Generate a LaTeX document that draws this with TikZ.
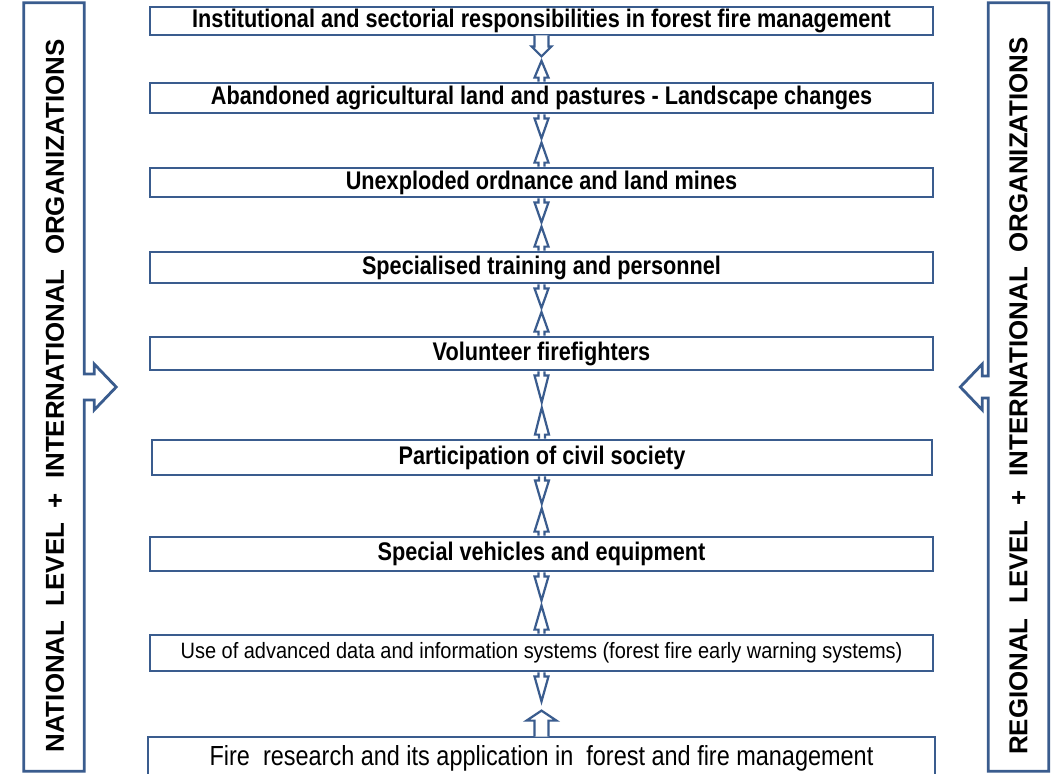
\documentclass[tikz,border=0pt]{standalone}
\usepackage{fontspec}
\setmainfont{Liberation Sans}
\newfontfamily\narrowfont[FakeStretch=0.85]{Liberation Sans}
\newfontfamily\semifont[FakeStretch=0.9]{Liberation Sans}
\usetikzlibrary{calc}
\definecolor{frame}{RGB}{58,92,142}
\begin{document}
\begin{tikzpicture}[x=1pt,y=-1pt,
  box/.style={draw=frame, line width=2.8pt, minimum width=783pt, inner sep=0pt, text=black,
    font=\narrowfont\bfseries\fontsize{25.5}{28}\selectfont},
  arr/.style={draw=frame, line width=2.2pt, fill=white, line join=miter},
  side/.style={minimum width=60pt, minimum height=768pt, inner sep=0pt},
  sideline/.style={draw=frame, line width=2.8pt, line join=miter},
  sidetext/.style={rotate=90, text=black, font=\bfseries\fontsize{25.9}{28}\selectfont}]
\clip (0,0) rectangle (1061,774);
\fill[white] (0,0) rectangle (1061,774);

% central boxes
\node[box, minimum height=28pt] (b1) at (541.5,21) {Institutional and sectorial responsibilities in forest fire management};
\node[box, minimum height=30pt] (b2) at (541.5,98) {Abandoned agricultural land and pastures - Landscape changes};
\node[box, minimum height=29pt] (b3) at (541.5,182.5) {Unexploded ordnance and land mines};
\node[box, minimum height=31pt] (b4) at (541.5,267.5) {Specialised training and personnel};
\node[box, minimum height=33pt] (b5) at (541.5,353.5) {Volunteer firefighters};
\node[box, minimum height=35pt, minimum width=780pt] (b6) at (542,457.5) {Participation of civil society};
\node[box, minimum height=34pt] (b7) at (541.5,554) {Special vehicles and equipment};
\node[box, minimum height=36pt, font=\semifont\fontsize{22.2}{24}\selectfont] (b8) at (541.5,653) {Use of advanced data and information systems (forest fire early warning systems)};
\node[box, minimum height=60pt, minimum width=787pt] (b9) at (541.5,767) {};
\node[text=black, font=\narrowfont\fontsize{27.6}{30}\selectfont, inner sep=0pt] (t9) at (541.5,758) {Fire\ \ research and its application in\ \ forest and fire management};

% side panels
\node[side] (L) at (54,387) {};
\node[sidetext] (Lt) at ($(L.center)+(1,9)$) {NATIONAL\ \ LEVEL\ \ +\ \ INTERNATIONAL\ \ ORGANIZATIONS};
\draw[sideline] (L.north west) -- (L.north east) -- ($(L.east)+(0,-13)$) -- ($(L.east)+(10,-13)$)
  -- ($(L.east)+(10,-23)$) -- ($(L.east)+(32,0)$) -- ($(L.east)+(10,23)$) -- ($(L.east)+(10,13)$)
  -- ($(L.east)+(0,13)$) -- (L.south east) -- (L.south west) -- cycle;

\node[side] (R) at (1018.5,387) {};
\node[sidetext] (Rt) at ($(R.center)+(0,9)$) {REGIONAL\ \ LEVEL\ \ +\ \ INTERNATIONAL\ \ ORGANIZATIONS};
\draw[sideline] (R.north east) -- (R.north west) -- ($(R.west)+(0,-11)$) -- ($(R.west)+(-6,-11)$)
  -- ($(R.west)+(-6,-23)$) -- ($(R.west)+(-28,0)$) -- ($(R.west)+(-6,23)$) -- ($(R.west)+(-6,11)$)
  -- ($(R.west)+(0,11)$) -- (R.south west) -- (R.south east) -- cycle;

% top block arrow (down) from b1
\draw[arr] ($(b1.south)+(-7,-1)$) -- ($(b1.south)+(-7,10)$) -- ($(b1.south)+(-10,10)$)
  -- ($(b1.south)+(0,20)$) -- ($(b1.south)+(10,10)$) -- ($(b1.south)+(7,10)$) -- ($(b1.south)+(7,-1)$);

% down triangles
\foreach \u/\l in {b2/b3,b3/b4,b4/b5,b5/b6,b6/b7,b7/b8,b8/b9}{
  \draw[arr] ($(\u.south)+(-3,0)$) -- ($(\u.south)+(-3,4)$) -- ($(\u.south)+(-7,4)$)
    -- ($(\u.south)!0.46!(\l.north)$) -- ($(\u.south)+(7,4)$) -- ($(\u.south)+(3,4)$) -- ($(\u.south)+(3,0)$);
}
% up triangles
\foreach \u/\l in {b1/b2,b2/b3,b3/b4,b4/b5,b5/b6,b6/b7,b7/b8}{
  \draw[arr] ($(\l.north)+(-3,0)$) -- ($(\l.north)+(-3,-4)$) -- ($(\l.north)+(-7,-4)$)
    -- ($(\l.north)!0.46!(\u.south)$) -- ($(\l.north)+(7,-4)$) -- ($(\l.north)+(3,-4)$) -- ($(\l.north)+(3,0)$);
}
% bottom block arrow (up) from b9
\draw[arr] ($(b9.north)+(-7,1)$) -- ($(b9.north)+(-7,-15)$) -- ($(b9.north)+(-15,-15)$)
  -- ($(b9.north)+(0,-25)$) -- ($(b9.north)+(15,-15)$) -- ($(b9.north)+(7,-15)$) -- ($(b9.north)+(7,1)$);
\end{tikzpicture}
\end{document}
